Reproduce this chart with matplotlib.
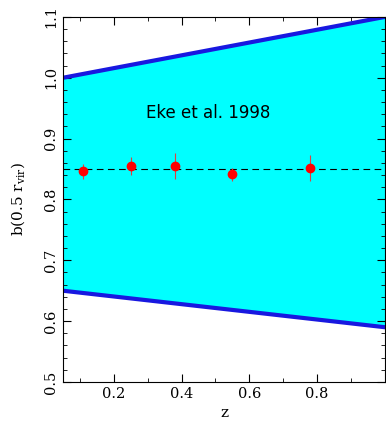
import matplotlib.pyplot as plt
from matplotlib.ticker import MultipleLocator

# Eke et al. 1998 band edges at the axis limits
band_z = [0.05, 1.0]
band_upper = [1.0, 1.1]
band_lower = [0.65, 0.59]

# measured bias points
z_pts = [0.11, 0.25, 0.38, 0.55, 0.78]
b_pts = [0.846, 0.855, 0.855, 0.841, 0.852]
b_err = [0.013, 0.015, 0.021, 0.010, 0.021]
b_mean = 0.85

plt.rcParams['font.family'] = ['DejaVu Serif']
plt.rcParams['mathtext.fontset'] = 'dejavuserif'

fig = plt.figure(figsize=(3.86, 4.23), dpi=100)
ax = fig.add_axes([0.163, 0.097, 0.834, 0.863])

ax.fill_between(band_z, band_lower, band_upper, color='#00ffff', zorder=1)
ax.plot(band_z, band_upper, color='#1818e0', lw=3, zorder=2)
ax.plot(band_z, band_lower, color='#1818e0', lw=3, zorder=2)
ax.axhline(b_mean, color='black', lw=0.8, dashes=(6, 4), zorder=3)
ax.errorbar(z_pts, b_pts, yerr=b_err, fmt='o', color='red', ms=6,
            ecolor='#e04040', elinewidth=0.8, capsize=0, zorder=4)

ax.text(0.48, 0.942, 'Eke et al. 1998', family='DejaVu Sans', fontsize=12,
        ha='center', va='center')

ax.set_xlim(0.05, 1.0)
ax.set_ylim(0.5, 1.1)
ax.xaxis.set_minor_locator(MultipleLocator(0.1))
ax.yaxis.set_major_locator(MultipleLocator(0.1))
ax.yaxis.set_minor_locator(MultipleLocator(0.02))
ax.set_xticks([0.2, 0.4, 0.6, 0.8])
ax.tick_params(which='both', direction='in', top=True, right=True, labelsize=10.5)
ax.tick_params(which='major', length=6)
ax.tick_params(which='minor', length=3)
for lab in ax.get_yticklabels():
    lab.set_rotation(90)
    lab.set_va('center')

ax.set_xlabel('z', fontsize=11)
ax.set_ylabel(r'b(0.5 r$_{\rm vir}$)', fontsize=11, labelpad=12)

fig.savefig('out.png', dpi=100)
